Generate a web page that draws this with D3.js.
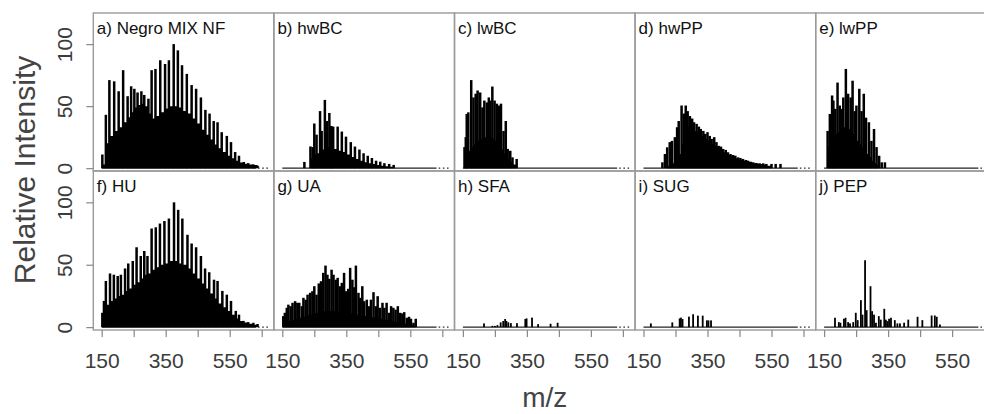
<!DOCTYPE html>
<html>
<head>
<meta charset="utf-8">
<script src="https://cdn.jsdelivr.net/npm/d3@7"></script>
<style>
  body { margin: 0; background: #fff; }
  svg { display: block; font-family: "Liberation Sans", Arial, sans-serif; }
</style>
</head>
<body>
<div id="chart"></div>
<script>
// panel titles, row by row
var panelNames = ["a) Negro MIX NF", "b) hwBC", "c) lwBC", "d) hwPP", "e) lwPP",
                  "f) HU", "g) UA", "h) SFA", "i) SUG", "j) PEP"];

// a) Negro MIX NF : spike m/z, spike height, filled body under the spikes
var negroMz   = [152,163,174,189,203,217,231,242,252,262,274,283,296,306,318,333,348,360,375,388,401,416,431,445,460,474,487,500,512,525,541,554,567,579,594,608,624,637];
var negroPeak = [11,43,71,70,62,79,58,66,64,61,62,59,56,79,80,87,84,87,100,95,83,76,67,64,57,47,44,38,37,29,26,21,13,10,5,4,3,2];
var negroBase = [3,20,26,30,33,37,41,45,49,51,52,50,44,40,42,45,48,50,50,49,46,44,40,36,31,27,23,19,16,13,10,8,6,4.5,3.5,3,2.5,1.5];

// b) hwBC
var hwbcMz   = [219,238,245,250,257,268,273,283,289,297,303,309,323,336,349,364,377,391,404,417,430,443,456,469,484,498];
var hwbcPeak = [5,17.5,17,36,27,46,30,55,38,44.5,34,33.5,33.5,29.5,25.4,21,17.4,15,12,10,8.2,6,5.2,4,3.4,2.6];
var hwbcBase = [0,8,10,11,12,14,15,17,17,17,16,15.5,14,13,11,9,7.4,6,4.7,4,3.4,2.6,2,1.5,1.2,1];

// c) lwBC
var lwbcMz   = [155,159,162,167,176,183,190,196,204,211,217,225,231,235,242,249,256,263,269,277,284,290,298,305,318];
var lwbcPeak = [17,25,43.7,45,71,57,60,62.6,61,49,54.5,53,57,54.5,65.8,54.5,52,50.5,52,30,38,15.5,14,8.7,7.4];
var lwbcBase = [3,8,11,14,17,19,20,22,23,24,25,26,26,25,24,22,20,18,15,12,10,7,5,3,0];

// d) hwPP
var hwppMz   = [209,217,224,232,239,248,255,260,269,276,282,288,295,302,308,316,323,329,337,343,350,357,363,371,378,385,392,399,407,414,422,430,437,446,453,461,470,477,485,493,503,513,524,534,550,563,578];
var hwppPeak = [4.7,11.4,16.8,21,22,25,33,38,50.5,44,50.5,46,42,40,37,35.7,33.5,31.6,30,27.6,29,26,23.6,25,21,18,17.4,15.5,14.7,12.8,11.4,10.6,10,8.7,8.2,7.4,6.6,6,5.2,4.7,4.2,3.9,3.9,3.4,3.4,3.4,3.4];
var hwppBase = [0,0,2,3.4,4,6,8.7,11.4,19.5,27.6,31.6,33.5,33,31.6,30,29,27.6,26,25,23.6,22,21,19.5,18,17,15.5,14,12.8,11.4,10.6,9.8,8.7,8,7,6.6,6,5.5,5,4.4,3.9,3.6,3.4,3,2,0,0,0];

// e) lwPP
var lwppMz   = [161,168,175,179,185,192,199,205,210,218,225,233,239,246,251,260,267,274,281,290,298,306,314,322,330,340];
var lwppPeak = [30,43.7,58.6,54.5,47.8,69,50.5,47.8,57,80,60,57,70.5,46,50.5,64,46,60,40.7,37,22,31.6,17,10,4.7,4.7];
var lwppBase = [17,22,25,26,27.6,29,30,31.6,33,33,31.6,30,27.6,25,22,19.5,17,14,11.4,8.7,6,4.2,2.8,0,0,0];

// f) HU
var huMz   = [152,157,163,176,188,200,210,223,233,247,259,272,283,293,306,319,332,346,360,376,389,402,418,431,445,460,473,486,501,512,527,541,554,569,579,593,608,624,637];
var huPeak = [11.5,21,37,43,42,41,42,47,51,53,64,57,61,57,79,80,83,85,87,100,94,87,74,67,64,57,47,44,38,37,29,26,21,13,10,5,4,3.5,2.5];
var huBase = [7,14,18,21,23,25,26,29,31,34,36,39,42,43,46,48,50,51,53,53,51,50,47,43,39,35,31,27,23,19,16,13,10,7,5,3.7,2.7,2,1.3];

// g) UA
var uaMz   = [153,158,164,169,176,182,190,197,203,211,216,223,229,237,244,250,257,264,271,278,285,291,297,304,310,317,323,330,336,343,349,356,362,369,375,380,388,393,400,406,414,421,427,435,442,448,455,463,469,476,484,490,497,504,511,518,525,531,539,546,552,560,567];
var uaPeak = [8.8,11.5,15.5,18,16.8,19.5,20.8,19.5,19.5,16.8,23.5,22,26,27.5,28.8,32.8,26,35,36.8,43.5,49.3,42,38.7,46,42,38,39.5,32.8,35.5,43.5,28.8,30.7,47.5,38,32,49.3,27.5,23.5,32.8,20.8,22,16.8,22,28,16.8,24.8,15.5,19.5,15.5,19.5,11.5,16.8,15.5,14,16.8,11.5,11,12,7.5,8.3,6.7,3.5,6.7];
var uaBase = [2,3,4,5,5.5,6,6.5,7,7.5,8,8.5,9,9.5,10,10.5,11,11.5,12,12.5,13,13,13,13,13,13,13,12.5,12.5,12,12,11.5,11.5,11,11,10.5,10,10,9.5,9,9,8.5,8,8,7.5,7,7,6.5,6,6,5.5,5,5,4.5,4,4,3.5,3,3,2.5,2,2,1,0];

// h) SFA
var sfaMz   = [216,242,250,258,268,276,282,286,292,300,319,345,349,366,385,424,446];
var sfaPeak = [3,1,1,1.6,3.8,4.9,6.5,4.9,3.8,3.2,3.2,6.5,7,7.6,2.4,2.7,3.5];

// i) SUG
var sugMz   = [173,240,263,267,272,292,305,320,335,348,353,361];
var sugPeak = [3,3.8,7,7.6,6.5,8.4,10.3,9.2,9.2,5.4,5.4,5.4];

// j) PEP
var pepMz   = [184,196,201,212,217,225,231,241,249,255,265,270,278,283,295,300,306,312,321,327,338,343,348,353,359,371,379,387,400,413,442,457,486,496,502,512];
var pepPeak = [7.5,4,3.5,6.7,7.5,4,3,4,11.5,5.6,21.6,10,53.6,13.6,32.8,12.8,10,3.5,8.8,6,14.7,6,4.8,6.7,7.5,5.6,3,3,3.5,6,8.3,5.6,9.3,9.3,8.3,2.1];

// axes
var xTicks = [150, 250, 350, 450, 550, 650];
var xTickLabels = [150, 350, 550];
var yTicks = [0, 50, 100];
var baselineEnd = 632;          // m/z where the zero line stops
var endDots = [641, 654, 667];  // the "..." after the zero line

var panels = [
    {mz: negroMz, peak: negroPeak, base: negroBase},
    {mz: hwbcMz, peak: hwbcPeak, base: hwbcBase},
    {mz: lwbcMz, peak: lwbcPeak, base: lwbcBase},
    {mz: hwppMz, peak: hwppPeak, base: hwppBase},
    {mz: lwppMz, peak: lwppPeak, base: lwppBase},
    {mz: huMz, peak: huPeak, base: huBase},
    {mz: uaMz, peak: uaPeak, base: uaBase},
    {mz: sfaMz, peak: sfaPeak, base: null},
    {mz: sugMz, peak: sugPeak, base: null},
    {mz: pepMz, peak: pepPeak, base: null}
];

var width = 984, height = 414;
var left0 = 93.3, panelW = 180.6;
var rowTop = [13, 171], rowH = [158, 159];

var svg = d3.select("#chart").append("svg")
    .attr("width", width)
    .attr("height", height);

panels.forEach(function(p, i) {
    var row = Math.floor(i / 5), col = i % 5;
    var H = rowH[row];
    var barW = p.base ? 2.5 : 1.8;

    var x = d3.scaleLinear().domain([123.75, 688.1]).range([0, panelW]);
    var y = d3.scaleLinear().domain([-2.3, 125.1]).range([H, 0]);

    var g = svg.append("g")
        .attr("transform", "translate(" + (left0 + col * panelW) + "," + rowTop[row] + ")");

    var pts = p.mz.map(function(m, k) {
        return {mz: m, peak: p.peak[k], base: p.base ? p.base[k] : 0};
    });

    // zero line and the trailing dots
    g.append("line")
        .attr("x1", x(150)).attr("x2", x(baselineEnd))
        .attr("y1", y(0)).attr("y2", y(0))
        .attr("stroke", "#222").attr("stroke-width", 1.3);
    g.selectAll(".dot").data(endDots).enter().append("rect")
        .attr("x", function(d) { return x(d) - 0.8; })
        .attr("y", y(0) - 0.7)
        .attr("width", 1.6).attr("height", 1.4)
        .attr("fill", "#444");

    // filled body under the spikes
    if (p.base) {
        var body = d3.area()
            .curve(d3.curveStepAfter)
            .x(function(d) { return x(d.mz); })
            .y0(y(0))
            .y1(function(d) { return y(d.base); });
        g.append("path")
            .datum(pts)
            .attr("d", body)
            .attr("fill", "#000");
    }

    // spikes
    g.selectAll(".spike").data(pts).enter().append("rect")
        .attr("x", function(d) { return x(d.mz) - barW / 2; })
        .attr("y", function(d) { return y(d.peak); })
        .attr("width", barW)
        .attr("height", function(d) { return y(0) - y(d.peak); })
        .attr("fill", "#000");

    // panel box
    g.append("rect")
        .attr("x", 0).attr("y", 0)
        .attr("width", panelW).attr("height", H)
        .attr("fill", "none")
        .attr("stroke", "#9a9a9a")
        .attr("stroke-width", 1.4);

    g.append("text")
        .attr("x", 3.5).attr("y", 20.5)
        .style("font-size", "17px")
        .attr("fill", "#111")
        .text(panelNames[i]);

    // y axis on the first column, labels turned like R's
    if (col === 0) {
        var ya = g.append("g")
            .call(d3.axisLeft(y).tickValues(yTicks).tickSize(7));
        ya.select(".domain").remove();
        ya.selectAll("line").attr("stroke", "#888").attr("stroke-width", 1.2);
        ya.selectAll("text")
            .attr("transform", "rotate(-90)")
            .attr("x", 0).attr("y", -21).attr("dy", 0)
            .style("text-anchor", "middle")
            .style("font-size", "21px")
            .attr("fill", "#3c3c3c");
    }

    // x axis on the bottom row
    if (row === 1) {
        var xa = g.append("g")
            .attr("transform", "translate(0," + H + ")")
            .call(d3.axisBottom(x).tickValues(xTicks).tickSize(7).tickPadding(16)
                .tickFormat(function(d) { return xTickLabels.indexOf(d) >= 0 ? d : ""; }));
        xa.select(".domain").remove();
        xa.selectAll("line").attr("stroke", "#888").attr("stroke-width", 1.2);
        xa.selectAll("text")
            .style("font-size", "21px")
            .attr("fill", "#3c3c3c");
    }
});

// axis titles
svg.append("text")
    .attr("x", left0 + 2.5 * panelW)
    .attr("y", 407)
    .style("text-anchor", "middle")
    .style("font-size", "28px")
    .attr("fill", "#444")
    .text("m/z");

svg.append("text")
    .attr("transform", "translate(35,170) rotate(-90)")
    .style("text-anchor", "middle")
    .style("font-size", "30px")
    .attr("fill", "#444")
    .text("Relative Intensity");
</script>
</body>
</html>
